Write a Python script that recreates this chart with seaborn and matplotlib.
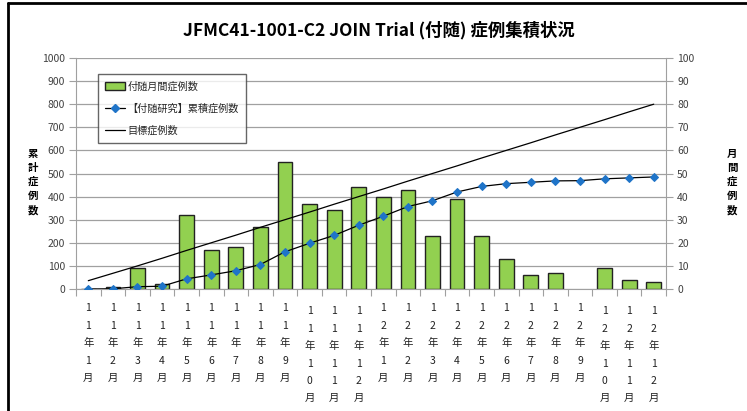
import matplotlib
matplotlib.use("Agg")
import numpy as np
import pandas as pd
import seaborn as sns
import matplotlib.pyplot as plt
from matplotlib.patches import Patch
from matplotlib.lines import Line2D

sns.set_style("white")
plt.rcParams['font.family'] = ['Noto Sans CJK JP', 'DejaVu Sans']

months = ["11年1月", "11年2月", "11年3月", "11年4月", "11年5月", "11年6月",
          "11年7月", "11年8月", "11年9月", "11年10月", "11年11月", "11年12月",
          "12年1月", "12年2月", "12年3月", "12年4月", "12年5月", "12年6月",
          "12年7月", "12年8月", "12年9月", "12年10月", "12年11月", "12年12月"]
# 12年9月 has no bar in the original
monthly = [0, 1, 9, 2, 32, 17, 18, 27, 55, 37, 34, 44,
           40, 43, 23, 39, 23, 13, 6, 7, np.nan, 9, 4, 3]
cumulative = [0, 1, 10, 12, 44, 61, 79, 106, 161, 198, 232, 276,
              315, 357, 382, 420, 444, 456, 462, 468, 469, 477, 481, 485]
target = [36, 68, 100, 133, 167, 200, 233, 267, 300, 333, 367, 400,
          433, 467, 500, 533, 567, 600, 633, 667, 700, 733, 767, 800]

df = pd.DataFrame({"month": months, "pos": range(len(months)),
                   "monthly": monthly, "cumulative": cumulative, "target": target})

green = "#92D050"
blue = "#1F74C8"
grey = "#A0A0A0"

fig = plt.figure(figsize=(7.47, 4.11), dpi=100)
ax = fig.add_axes([76 / 747, 1 - 289 / 411, 590 / 747, 231 / 411])
ax2 = ax.twinx()

# bars on the right scale, drawn underneath
sns.barplot(x="pos", y="monthly", data=df, ax=ax2, color=green, width=0.6,
            edgecolor="#222222", linewidth=1, saturation=1, native_scale=True)
ax2.set_ylim(0, 100)
ax2.set_yticks(range(0, 101, 10))
ax2.grid(axis="y", color=grey, linewidth=0.9)
ax2.set_axisbelow(True)
ax2.set_ylabel("")

# lines on the left scale, on top
ax.set_zorder(ax2.get_zorder() + 1)
ax.patch.set_visible(False)
sns.lineplot(x="pos", y="target", data=df, ax=ax, color="black", linewidth=0.9)
sns.lineplot(x="pos", y="cumulative", data=df, ax=ax, color="black", linewidth=0.9,
             marker="D", markersize=4.5, markerfacecolor=blue, markeredgecolor=blue)
ax.set_ylim(0, 1000)
ax.set_yticks(range(0, 1001, 100))
ax.set_xlim(-0.5, 23.5)
ax.set_xlabel("")
ax.set_ylabel("")

for a in (ax, ax2):
    for s in ["top", "bottom", "left", "right"]:
        a.spines[s].set_visible(False)
for s in ["left", "right", "bottom"]:
    ax2.spines[s].set_visible(True)
    ax2.spines[s].set_color(grey)

ax.tick_params(axis="y", left=True, length=5, color=grey, labelsize=7.5,
               labelcolor="#404040", pad=3)
ax2.tick_params(axis="y", right=True, length=5, color=grey, labelsize=7.5,
                labelcolor="#404040", pad=3)

# category ticks at the boundaries, labels written vertically one char per row
ax2.set_xticks([])
ax.set_xticks([p - 0.5 for p in range(len(months) + 1)])
ax.set_xticklabels([])
ax.tick_params(axis="x", bottom=True, length=5, color=grey)
for p, m in zip(df["pos"], months):
    y0 = -0.075 if len(m) > 5 else -0.062
    ax.text(p, y0, "\n".join(m), transform=ax.get_xaxis_transform(),
            ha="center", va="top", fontsize=7.5, linespacing=1.92,
            color="#202020")

handles = [Patch(facecolor=green, edgecolor="#222222", linewidth=1),
           Line2D([], [], color="black", linewidth=0.9, marker="D", markersize=4.5,
                  markerfacecolor=blue, markeredgecolor=blue),
           Line2D([], [], color="black", linewidth=0.9)]
labels = ["付随月間症例数", "【付随研究】累積症例数", "目標症例数"]
leg = ax.legend(handles, labels, loc="upper left", bbox_to_anchor=(0.037, 0.93),
                fontsize=7.3, frameon=True, fancybox=False, handlelength=2.0,
                handletextpad=0.2, borderpad=0.7, labelspacing=1.15, borderaxespad=0)
leg.get_frame().set_edgecolor("#404040")
leg.get_frame().set_linewidth(1)

fig.text(379 / 747, 1 - 30 / 411, "JFMC41-1001-C2 JOIN Trial (付随) 症例集積状況",
         ha="center", va="center", fontsize=12.5, fontweight="bold", color="black")
fig.text(33 / 747, 1 - 182 / 411, "\n".join("累計症例数"), ha="center", va="center",
         fontsize=7.5, fontweight="bold", linespacing=1.5, color="black")
fig.text(732 / 747, 1 - 182 / 411, "\n".join("月間症例数"), ha="center", va="center",
         fontsize=7.5, fontweight="bold", linespacing=1.5, color="black")

# outer frame (left and top edges)
fig.add_artist(Line2D([8 / 747, 8 / 747], [0, 1 - 3 / 411], color="black",
                      linewidth=2, transform=fig.transFigure))
fig.add_artist(Line2D([8 / 747, 1], [1 - 3 / 411, 1 - 3 / 411], color="black",
                      linewidth=2, transform=fig.transFigure))

fig.savefig("out.png", dpi=100)
